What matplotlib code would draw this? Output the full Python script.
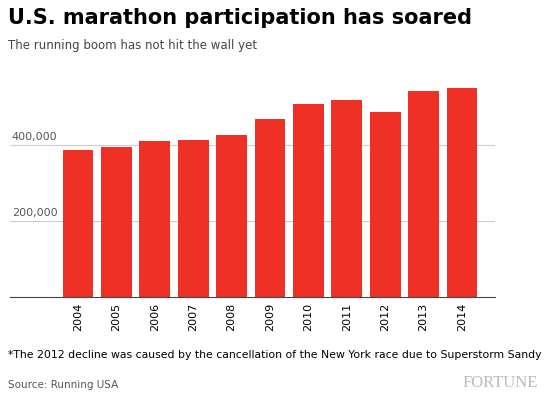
import matplotlib.pyplot as plt

years = ['2004', '2005', '2006', '2007', '2008', '2009', '2010', '2011', '2012', '2013', '2014']
finishers = [386000, 395000, 410000, 412000, 425000, 467000, 507000, 518000, 487000, 541000, 550000]
yticks = [200000, 400000]
ytick_labels = ['200,000', '400,000']

fig = plt.figure(figsize=(5.45, 4.0), dpi=100)
ax = fig.add_axes([10/545, 1 - 297/400, 485/545, 227/400])

ax.bar(range(len(years)), finishers, width=0.8, color='#ee3124', zorder=2)
ax.set_xlim(-1.77, 10.86)
ax.set_ylim(0, 597000)
ax.set_yticks(yticks)
ax.set_yticklabels([])
for v, lab in zip(yticks, ytick_labels):
    ax.text(-1.72, v + 8000, lab, fontsize=8, color='#555555', ha='left', va='bottom')
ax.set_xticks(range(len(years)))
ax.set_xticklabels(years, rotation=90, fontsize=8)
ax.grid(axis='y', color='#cccccc', lw=0.8, zorder=0)
ax.tick_params(length=0, pad=4)
for s in ['top', 'right', 'left']:
    ax.spines[s].set_visible(False)
ax.spines['bottom'].set_color('#444444')

fig.text(8/545, 1 - 18/400, 'U.S. marathon participation has soared', fontsize=15,
         fontweight='bold', family='Liberation Sans Narrow', va='center')
fig.text(8/545, 1 - 45/400, 'The running boom has not hit the wall yet', fontsize=8.5,
         color='#444444', va='center')
fig.text(8/545, 1 - 355/400, '*The 2012 decline was caused by the cancellation of the New York race due to Superstorm Sandy',
         fontsize=7.8, va='center')
fig.text(8/545, 1 - 385/400, 'Source: Running USA', fontsize=7.5, color='#555555', va='center')
fig.text(538/545, 1 - 383/400, 'FORTUNE', fontsize=12, color='#bbbbbb', family='Liberation Serif',
         ha='right', va='center')

fig.savefig('out.png', dpi=100)
